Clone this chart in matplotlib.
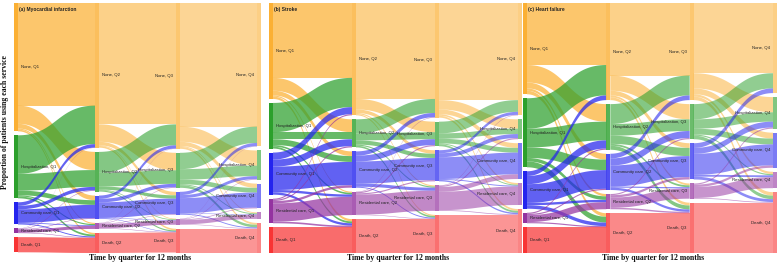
import numpy as np
import matplotlib
matplotlib.use("Agg")
import matplotlib.pyplot as plt
from matplotlib.patches import Polygon, Rectangle

states = ["None", "Hospitalization", "Community care", "Residential care", "Death"]
quarters = ["Q1", "Q2", "Q3", "Q4"]
panel_titles = ["(a) Myocardial infarction", "(b) Stroke", "(c) Heart failure"]
x_title = "Time by quarter for 12 months"
y_title = "Proportion of patients using each service"
state_colors = ["#FBB034", "#2CA02C", "#2424EE", "#9433A0", "#F83434"]

# Flows between consecutive quarters (% of cohort)
# rows = service in earlier quarter, columns = service in next quarter
mi_q1_q2 = [[44.0, 7.8, 2.0, 0.5, 0.7],
            [16.5, 7.2, 2.0, 0.5, 0.8],
            [1.5, 1.5, 5.8, 0.3, 0.4],
            [0.1, 0.2, 0.2, 1.3, 0.2],
            [0.0, 0.0, 0.0, 0.0, 6.5]]
mi_q2_q3 = [[52.0, 7.5, 1.5, 0.3, 0.7],
            [9.0, 5.8, 1.4, 0.3, 0.5],
            [1.4, 1.5, 6.7, 0.2, 0.2],
            [0.1, 0.2, 0.2, 1.8, 0.2],
            [0.0, 0.0, 0.0, 0.0, 8.6]]
mi_q3_q4 = [[53.0, 6.5, 1.8, 0.4, 0.8],
            [7.0, 4.5, 2.0, 0.4, 1.1],
            [1.4, 1.3, 6.5, 0.2, 0.4],
            [0.1, 0.2, 0.3, 1.8, 0.2],
            [0.0, 0.0, 0.0, 0.0, 10.2]]

st_q1_q2 = [[32.0, 5.5, 2.0, 0.5, 1.0],
            [12.5, 3.0, 2.5, 0.7, 0.8],
            [3.0, 3.0, 10.0, 1.0, 1.0],
            [0.5, 0.5, 1.0, 7.8, 0.7],
            [0.0, 0.0, 0.0, 0.0, 11.0]]
st_q2_q3 = [[41.0, 4.5, 1.5, 0.5, 0.5],
            [6.0, 3.0, 1.8, 0.5, 0.7],
            [1.8, 2.5, 9.5, 1.3, 0.4],
            [0.2, 0.5, 0.5, 8.6, 0.2],
            [0.0, 0.0, 0.0, 0.0, 14.5]]
st_q3_q4 = [[41.5, 4.0, 2.0, 0.7, 0.8],
            [5.0, 2.3, 2.0, 0.4, 0.8],
            [1.3, 1.7, 9.3, 0.4, 0.6],
            [0.2, 0.5, 2.0, 7.9, 0.3],
            [0.0, 0.0, 0.0, 0.0, 16.3]]

hf_q1_q2 = [[26.5, 7.5, 2.5, 1.0, 1.5],
            [13.0, 8.0, 4.5, 1.5, 2.5],
            [2.0, 3.5, 8.0, 1.0, 1.5],
            [0.0, 0.5, 0.5, 3.0, 0.5],
            [0.0, 0.0, 0.0, 0.0, 11.0]]
hf_q2_q3 = [[31.0, 6.5, 2.0, 0.8, 1.2],
            [8.5, 5.0, 3.5, 0.8, 1.7],
            [2.0, 3.0, 9.0, 0.5, 1.0],
            [0.0, 0.5, 1.0, 4.4, 0.6],
            [0.0, 0.0, 0.0, 0.0, 17.0]]
hf_q3_q4 = [[30.0, 6.5, 2.5, 1.0, 1.5],
            [6.5, 4.0, 2.5, 0.5, 1.5],
            [2.0, 2.5, 9.0, 0.8, 1.2],
            [0.0, 0.5, 1.0, 4.7, 0.3],
            [0.0, 0.0, 0.0, 0.0, 21.5]]

panels = [[mi_q1_q2, mi_q2_q3, mi_q3_q4],
          [st_q1_q2, st_q2_q3, st_q3_q4],
          [hf_q1_q2, hf_q2_q3, hf_q3_q4]]

# ---------------- layout (pixels) ----------------
W, H = 777, 265
panel_px = [(14, 261), (269, 522), (523, 777)]
top_px, bot_px = 3, 253
bar_px = 4.0
pad_px = 4.0
node_alpha = [1.0, 0.8, 0.7, 0.6]
link_alpha = [0.72, 0.58, 0.52]

label_font = ["Liberation Sans", "DejaVu Sans"]
serif_font = ["Liberation Serif", "DejaVu Serif"]

fig = plt.figure(figsize=(W / 100, H / 100), dpi=100)
fig.patch.set_facecolor("white")


def ribbon(x0, x1, y0a, y0b, y1a, y1b):
    t = np.linspace(0, 1, 60)
    xm = (x0 + x1) / 2.0
    bx = (1 - t) ** 3 * x0 + 3 * (1 - t) ** 2 * t * xm + 3 * (1 - t) * t ** 2 * xm + t ** 3 * x1
    s = 3 * t ** 2 - 2 * t ** 3
    top = y0a + (y1a - y0a) * s
    bot = y0b + (y1b - y0b) * s
    return np.column_stack([np.concatenate([bx, bx[::-1]]), np.concatenate([top, bot[::-1]])])


for p, flows in enumerate(panels):
    F = [np.array(f, dtype=float) for f in flows]
    x0p, x1p = panel_px[p]
    ax = fig.add_axes([x0p / W, (H - bot_px) / H, (x1p - x0p) / W, (bot_px - top_px) / H])
    ax.axis("off")
    ncol = 4
    vals = [F[0].sum(axis=1)]
    for k in range(1, ncol - 1):
        vals.append(np.maximum(F[k - 1].sum(axis=0), F[k].sum(axis=1)))
    vals.append(F[-1].sum(axis=0))
    tot = max(v.sum() for v in vals)
    hpx = bot_px - top_px
    pad = pad_px * tot / (hpx - 4 * pad_px)
    ymax = tot + 4 * pad
    ax.set_xlim(0, 3)
    ax.set_ylim(ymax, 0)
    w = bar_px / (x1p - x0p) * 3
    xl = [k * (3 - w) / 3 for k in range(ncol)]
    xr = [x + w for x in xl]
    y0 = []
    for k in range(ncol):
        ys = []
        y = 0.0
        for i in range(5):
            ys.append(y)
            y += vals[k][i] + pad
        y0.append(ys)

    # links
    for t in range(ncol - 1):
        M = F[t]
        out_off = [y0[t][i] for i in range(5)]
        in_off = [y0[t + 1][j] for j in range(5)]
        src_pos = {}
        for i in range(5):
            for j in range(5):
                v = M[i, j]
                src_pos[(i, j)] = out_off[i]
                out_off[i] += v
        tgt_pos = {}
        for j in range(5):
            for i in range(5):
                v = M[i, j]
                tgt_pos[(i, j)] = in_off[j]
                in_off[j] += v
        for i in range(5):
            for j in range(5):
                v = M[i, j]
                if v <= 0:
                    continue
                ys0 = src_pos[(i, j)]
                yt0 = tgt_pos[(i, j)]
                poly = ribbon(xr[t], xl[t + 1], ys0, ys0 + v, yt0, yt0 + v)
                ax.add_patch(Polygon(poly, closed=True, facecolor=state_colors[i],
                                     alpha=link_alpha[t], edgecolor="none", zorder=1))

    # nodes and labels
    for k in range(ncol):
        for i in range(5):
            ax.add_patch(Rectangle((xl[k], y0[k][i]), w, vals[k][i], facecolor=state_colors[i],
                                   alpha=node_alpha[k], edgecolor="none", zorder=2))
            ym = y0[k][i] + vals[k][i] / 2
            lab = f"{states[i]}, {quarters[k]}"
            if k < 2:
                ax.text(xr[k] + 3 * 3 / (x1p - x0p), ym, lab, ha="left", va="center",
                        fontsize=3.1, family=label_font, color="#222222", zorder=3)
            else:
                ax.text(xl[k] - 3 * 3 / (x1p - x0p), ym, lab, ha="right", va="center",
                        fontsize=3.1, family=label_font, color="#222222", zorder=3)

    ax.text(xr[0] + 1 * 3 / (x1p - x0p), ymax * 6 / hpx - ymax * 3 / hpx + ymax * 3 / hpx, panel_titles[p],
            ha="left", va="center", fontsize=3.5, fontweight="bold",
            family=label_font, color="#222222", zorder=4)

    fig.text(((x0p + x1p) / 2 + 3) / W, 1 - 258 / H, x_title, ha="center", va="center",
             fontsize=5.6, fontweight="bold", family=serif_font, color="#111111")

fig.text(5 / W, 1 - 122 / H, y_title, rotation=90, ha="center", va="center",
         fontsize=5.6, fontweight="bold", family=serif_font, color="#111111")

fig.savefig("out.png", dpi=100, facecolor="white")
